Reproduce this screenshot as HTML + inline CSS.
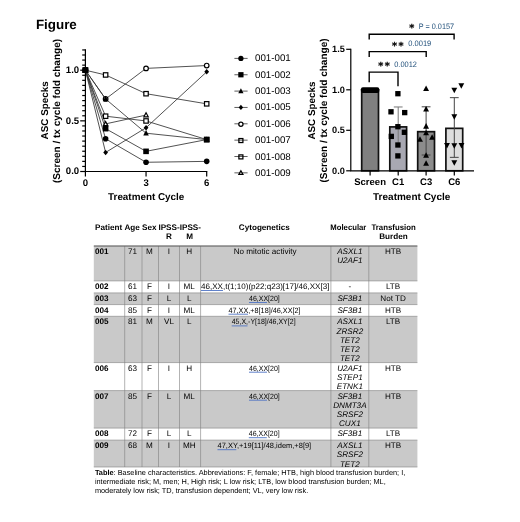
<!DOCTYPE html>
<html><head><meta charset="utf-8"><title>Figure</title>
<style>
html,body{margin:0;padding:0;background:#fff;}
svg{display:block;}
text{font-family:"Liberation Sans",sans-serif;fill:#000;text-rendering:geometricPrecision;}
.b{font-weight:bold;}
.i{font-style:italic;}
.bl{fill:#1f4e79;}
</style></head><body>
<svg width="520" height="522" viewBox="0 0 520 522">
<rect x="0" y="0" width="520" height="522" fill="#fff"/>
<text class="b" x="35.9" y="29.2" font-size="13.4">Figure</text>
<g id="linechart">
<path d="M85.40 70.20 L105.62 138.78 L146.05 162.28 L206.70 161.37" fill="none" stroke="#333" stroke-width="0.85"/>
<path d="M85.40 70.20 L105.62 128.65 L146.05 151.34 L206.70 139.59" fill="none" stroke="#333" stroke-width="0.85"/>
<path d="M85.40 70.20 L105.62 98.97 L146.05 133.21 L206.70 139.59" fill="none" stroke="#333" stroke-width="0.85"/>
<path d="M85.40 70.20 L105.62 152.46 L146.05 127.74 L206.70 71.82" fill="none" stroke="#333" stroke-width="0.85"/>
<path d="M85.40 70.20 L105.62 98.97 L146.05 68.38 L206.70 65.54" fill="none" stroke="#333" stroke-width="0.85"/>
<path d="M85.40 70.20 L105.62 74.96 L146.05 93.70 L206.70 103.83" fill="none" stroke="#333" stroke-width="0.85"/>
<path d="M85.40 70.20 L105.62 116.19 L146.05 120.95 L206.70 139.59" fill="none" stroke="#333" stroke-width="0.85"/>
<path d="M85.40 70.20 L105.62 123.89 L146.05 115.08" fill="none" stroke="#333" stroke-width="0.85"/>
<path d="M85.40 67.90 L87.60 71.90 L83.20 71.90 Z" fill="#fff" stroke="#000" stroke-width="1.2" stroke-linejoin="miter"/>
<path d="M105.62 121.59 L107.82 125.59 L103.42 125.59 Z" fill="#fff" stroke="#000" stroke-width="1.2" stroke-linejoin="miter"/>
<path d="M146.05 112.78 L148.25 116.78 L143.85 116.78 Z" fill="#fff" stroke="#000" stroke-width="1.2" stroke-linejoin="miter"/>
<rect x="83.20" y="68.00" width="4.40" height="4.40" fill="#fff" stroke="#000" stroke-width="1.2"/>
<rect x="103.42" y="113.99" width="4.40" height="4.40" fill="#fff" stroke="#000" stroke-width="1.2"/>
<rect x="143.85" y="118.75" width="4.40" height="4.40" fill="#fff" stroke="#000" stroke-width="1.2"/>
<rect x="204.50" y="137.39" width="4.40" height="4.40" fill="#fff" stroke="#000" stroke-width="1.2"/>
<rect x="83.20" y="68.00" width="4.40" height="4.40" fill="#fff" stroke="#000" stroke-width="1.2"/>
<rect x="103.42" y="72.76" width="4.40" height="4.40" fill="#fff" stroke="#000" stroke-width="1.2"/>
<rect x="143.85" y="91.50" width="4.40" height="4.40" fill="#fff" stroke="#000" stroke-width="1.2"/>
<rect x="204.50" y="101.63" width="4.40" height="4.40" fill="#fff" stroke="#000" stroke-width="1.2"/>
<circle cx="85.40" cy="70.20" r="2.30" fill="#fff" stroke="#000" stroke-width="1.2"/>
<circle cx="105.62" cy="98.97" r="2.30" fill="#fff" stroke="#000" stroke-width="1.2"/>
<circle cx="146.05" cy="68.38" r="2.30" fill="#fff" stroke="#000" stroke-width="1.2"/>
<circle cx="206.70" cy="65.54" r="2.30" fill="#fff" stroke="#000" stroke-width="1.2"/>
<path d="M85.40 67.40 L87.78 70.20 L85.40 73.00 L83.02 70.20 Z" fill="#000"/>
<path d="M105.62 149.66 L108.00 152.46 L105.62 155.26 L103.24 152.46 Z" fill="#000"/>
<path d="M146.05 124.94 L148.43 127.74 L146.05 130.54 L143.67 127.74 Z" fill="#000"/>
<path d="M206.70 69.02 L209.08 71.82 L206.70 74.62 L204.32 71.82 Z" fill="#000"/>
<path d="M85.40 67.10 L88.20 72.40 L82.60 72.40 Z" fill="#000"/>
<path d="M105.62 95.87 L108.42 101.17 L102.82 101.17 Z" fill="#000"/>
<path d="M146.05 130.11 L148.85 135.41 L143.25 135.41 Z" fill="#000"/>
<path d="M206.70 136.49 L209.50 141.79 L203.90 141.79 Z" fill="#000"/>
<rect x="82.60" y="67.40" width="5.60" height="5.60" fill="#000"/>
<rect x="102.82" y="125.85" width="5.60" height="5.60" fill="#000"/>
<rect x="143.25" y="148.54" width="5.60" height="5.60" fill="#000"/>
<rect x="203.90" y="136.79" width="5.60" height="5.60" fill="#000"/>
<circle cx="85.40" cy="70.20" r="2.80" fill="#000"/>
<circle cx="105.62" cy="138.78" r="2.80" fill="#000"/>
<circle cx="146.05" cy="162.28" r="2.80" fill="#000"/>
<circle cx="206.70" cy="161.37" r="2.80" fill="#000"/>
<path d="M85.4 49.34 V171.5 H207.30" fill="none" stroke="#000" stroke-width="1.2"/>
<path d="M80.20 171.50 H85.4" stroke="#000" stroke-width="1.2"/>
<path d="M82.20 166.44 H85.4" stroke="#000" stroke-width="1.2"/>
<path d="M82.20 161.37 H85.4" stroke="#000" stroke-width="1.2"/>
<path d="M82.20 156.31 H85.4" stroke="#000" stroke-width="1.2"/>
<path d="M82.20 151.24 H85.4" stroke="#000" stroke-width="1.2"/>
<path d="M82.20 146.18 H85.4" stroke="#000" stroke-width="1.2"/>
<path d="M82.20 141.11 H85.4" stroke="#000" stroke-width="1.2"/>
<path d="M82.20 136.04 H85.4" stroke="#000" stroke-width="1.2"/>
<path d="M82.20 130.98 H85.4" stroke="#000" stroke-width="1.2"/>
<path d="M82.20 125.91 H85.4" stroke="#000" stroke-width="1.2"/>
<path d="M80.20 120.85 H85.4" stroke="#000" stroke-width="1.2"/>
<path d="M82.20 115.78 H85.4" stroke="#000" stroke-width="1.2"/>
<path d="M82.20 110.72 H85.4" stroke="#000" stroke-width="1.2"/>
<path d="M82.20 105.66 H85.4" stroke="#000" stroke-width="1.2"/>
<path d="M82.20 100.59 H85.4" stroke="#000" stroke-width="1.2"/>
<path d="M82.20 95.53 H85.4" stroke="#000" stroke-width="1.2"/>
<path d="M82.20 90.46 H85.4" stroke="#000" stroke-width="1.2"/>
<path d="M82.20 85.39 H85.4" stroke="#000" stroke-width="1.2"/>
<path d="M82.20 80.33 H85.4" stroke="#000" stroke-width="1.2"/>
<path d="M82.20 75.27 H85.4" stroke="#000" stroke-width="1.2"/>
<path d="M80.20 70.20 H85.4" stroke="#000" stroke-width="1.2"/>
<path d="M82.20 65.14 H85.4" stroke="#000" stroke-width="1.2"/>
<path d="M82.20 60.07 H85.4" stroke="#000" stroke-width="1.2"/>
<path d="M82.20 55.00 H85.4" stroke="#000" stroke-width="1.2"/>
<path d="M82.20 49.94 H85.4" stroke="#000" stroke-width="1.2"/>
<path d="M85.40 171.5 V176.5" stroke="#000" stroke-width="1.2"/>
<path d="M146.05 171.5 V176.5" stroke="#000" stroke-width="1.2"/>
<path d="M206.70 171.5 V176.5" stroke="#000" stroke-width="1.2"/>
<text class="b" x="79.2" y="73.10" font-size="9.6" text-anchor="end">1.0</text>
<text class="b" x="79.2" y="123.75" font-size="9.6" text-anchor="end">0.5</text>
<text class="b" x="79.2" y="174.40" font-size="9.6" text-anchor="end">0.0</text>
<text class="b" x="85.40" y="185.9" font-size="9.6" text-anchor="middle">0</text>
<text class="b" x="146.05" y="185.9" font-size="9.6" text-anchor="middle">3</text>
<text class="b" x="206.70" y="185.9" font-size="9.6" text-anchor="middle">6</text>
<text class="b" x="146.2" y="200" font-size="9.9" text-anchor="middle">Treatment Cycle</text>
<text class="b" transform="translate(47.9 110.3) rotate(-90)" font-size="9.9" text-anchor="middle">ASC Specks</text>
<text class="b" transform="translate(60.4 111.0) rotate(-90)" font-size="10.03" text-anchor="middle">(Screen / tx cycle fold change)</text>
</g>
<g id="legend">
<path d="M234.4 58.40 H247.6" stroke="#333" stroke-width="0.8"/>
<circle cx="240.90" cy="58.40" r="2.63" fill="#000"/>
<text x="255" y="61.40" font-size="9.75">001-001</text>
<path d="M234.4 74.75 H247.6" stroke="#333" stroke-width="0.8"/>
<rect x="238.27" y="72.12" width="5.26" height="5.26" fill="#000"/>
<text x="255" y="77.75" font-size="9.75">001-002</text>
<path d="M234.4 91.10 H247.6" stroke="#333" stroke-width="0.8"/>
<path d="M240.90 88.17 L243.53 93.13 L238.27 93.13 Z" fill="#000"/>
<text x="255" y="94.10" font-size="9.75">001-003</text>
<path d="M234.4 107.45 H247.6" stroke="#333" stroke-width="0.8"/>
<path d="M240.90 104.82 L243.14 107.45 L240.90 110.08 L238.66 107.45 Z" fill="#000"/>
<text x="255" y="110.45" font-size="9.75">001-005</text>
<path d="M234.4 123.80 H247.6" stroke="#333" stroke-width="0.8"/>
<circle cx="240.90" cy="124.20" r="2.11" fill="#fff" stroke="#000" stroke-width="1.25"/>
<text x="255" y="126.80" font-size="9.75">001-006</text>
<path d="M234.4 140.15 H247.6" stroke="#333" stroke-width="0.8"/>
<rect x="238.89" y="138.54" width="4.01" height="4.01" fill="none" stroke="#000" stroke-width="1.25"/>
<text x="255" y="143.15" font-size="9.75">001-007</text>
<path d="M234.4 156.50 H247.6" stroke="#333" stroke-width="0.8"/>
<rect x="238.89" y="154.89" width="4.01" height="4.01" fill="none" stroke="#000" stroke-width="1.25"/>
<text x="255" y="159.50" font-size="9.75">001-008</text>
<path d="M234.4 172.85 H247.6" stroke="#333" stroke-width="0.8"/>
<path d="M240.90 170.72 L242.91 174.38 L238.89 174.38 Z" fill="#fff" stroke="#000" stroke-width="1.25" stroke-linejoin="miter"/>
<text x="255" y="175.85" font-size="9.75">001-009</text>
</g>
<g id="barchart">
<rect x="361.70" y="89.80" width="16.8" height="81.00" fill="#808080" stroke="#111" stroke-width="1.7"/>
<rect x="389.80" y="126.90" width="16.8" height="43.90" fill="#a8a8b2" stroke="#111" stroke-width="1.7"/>
<path d="M393.80 106.97 H402.60 M398.20 106.97 V146.82" stroke="#777" stroke-width="1" fill="none"/>
<rect x="417.70" y="131.68" width="16.8" height="39.12" fill="#8c8c8c" stroke="#111" stroke-width="1.7"/>
<path d="M421.70 106.81 H430.50 M426.10 106.81 V155.01 M421.70 155.01 H430.50" stroke="#444" stroke-width="1" fill="none"/>
<rect x="445.90" y="128.36" width="16.8" height="42.44" fill="#dedede" stroke="#111" stroke-width="1.7"/>
<path d="M449.90 97.66 H458.70 M454.30 97.66 V157.35 M449.90 157.35 H458.70" stroke="#444" stroke-width="1" fill="none"/>
<rect x="360.90" y="87.30" width="18.4" height="5.6" rx="2" fill="#000"/>
<rect x="395.24" y="91.04" width="5.32" height="5.32" fill="#000"/>
<rect x="388.34" y="109.14" width="5.32" height="5.32" fill="#000"/>
<rect x="402.04" y="109.94" width="5.32" height="5.32" fill="#000"/>
<rect x="395.24" y="124.04" width="5.32" height="5.32" fill="#000"/>
<rect x="388.64" y="133.74" width="5.32" height="5.32" fill="#000"/>
<rect x="401.74" y="129.64" width="5.32" height="5.32" fill="#000"/>
<rect x="395.24" y="142.34" width="5.32" height="5.32" fill="#000"/>
<rect x="395.24" y="153.24" width="5.32" height="5.32" fill="#000"/>
<path d="M426.10 85.46 L429.04 91.04 L423.16 91.04 Z" fill="#000"/>
<path d="M426.10 105.96 L429.04 111.54 L423.16 111.54 Z" fill="#000"/>
<path d="M426.10 123.06 L429.04 128.64 L423.16 128.64 Z" fill="#000"/>
<path d="M420.00 136.16 L422.94 141.74 L417.06 141.74 Z" fill="#000"/>
<path d="M432.10 134.16 L435.04 139.74 L429.16 139.74 Z" fill="#000"/>
<path d="M426.10 129.76 L429.04 135.34 L423.16 135.34 Z" fill="#000"/>
<path d="M426.10 152.26 L429.04 157.84 L423.16 157.84 Z" fill="#000"/>
<path d="M426.10 160.26 L429.04 165.84 L423.16 165.84 Z" fill="#000"/>
<path d="M454.30 93.34 L457.24 87.76 L451.36 87.76 Z" fill="#000"/>
<path d="M461.30 88.74 L464.24 83.16 L458.36 83.16 Z" fill="#000"/>
<path d="M454.30 119.84 L457.24 114.26 L451.36 114.26 Z" fill="#000"/>
<path d="M447.00 148.54 L449.94 142.96 L444.06 142.96 Z" fill="#000"/>
<path d="M454.30 148.84 L457.24 143.26 L451.36 143.26 Z" fill="#000"/>
<path d="M461.50 148.54 L464.44 142.96 L458.56 142.96 Z" fill="#000"/>
<path d="M454.30 165.74 L457.24 160.16 L451.36 160.16 Z" fill="#000"/>
<path d="M350.8 48.70 V170.8 H474" fill="none" stroke="#000" stroke-width="1.2"/>
<path d="M346.20 49.30 H350.8" stroke="#000" stroke-width="1.2"/>
<text class="b" x="344.9" y="52.20" font-size="9.2" text-anchor="end">1.5</text>
<path d="M346.20 89.80 H350.8" stroke="#000" stroke-width="1.2"/>
<text class="b" x="344.9" y="92.70" font-size="9.2" text-anchor="end">1.0</text>
<path d="M346.20 130.30 H350.8" stroke="#000" stroke-width="1.2"/>
<text class="b" x="344.9" y="133.20" font-size="9.2" text-anchor="end">0.5</text>
<path d="M346.20 170.80 H350.8" stroke="#000" stroke-width="1.2"/>
<text class="b" x="344.9" y="173.70" font-size="9.2" text-anchor="end">0.0</text>
<path d="M370.10 170.8 V175.4" stroke="#000" stroke-width="1.2"/>
<text class="b" x="370.10" y="185.3" font-size="9.5" text-anchor="middle">Screen</text>
<path d="M398.20 170.8 V175.4" stroke="#000" stroke-width="1.2"/>
<text class="b" x="398.20" y="185.3" font-size="9.5" text-anchor="middle">C1</text>
<path d="M426.10 170.8 V175.4" stroke="#000" stroke-width="1.2"/>
<text class="b" x="426.10" y="185.3" font-size="9.5" text-anchor="middle">C3</text>
<path d="M454.30 170.8 V175.4" stroke="#000" stroke-width="1.2"/>
<text class="b" x="454.30" y="185.3" font-size="9.5" text-anchor="middle">C6</text>
<text class="b" x="411.7" y="199.6" font-size="10" text-anchor="middle">Treatment Cycle</text>
<text class="b" transform="translate(314.5 110.5) rotate(-90)" font-size="9.9" text-anchor="middle">ASC Specks</text>
<text class="b" transform="translate(326.7 110.5) rotate(-90)" font-size="10.03" text-anchor="middle">(Screen / tx cycle fold change)</text>
<path d="M369.2 39.6 V34.2 H454.1 V39.6" fill="none" stroke="#000" stroke-width="1.4"/>
<path d="M369.2 57 V51.6 H426.2 V57" fill="none" stroke="#000" stroke-width="1.4"/>
<path d="M369.2 82.3 V72.1 H398 V86.3" fill="none" stroke="#000" stroke-width="1.4"/>
<text style="font-family:'DejaVu Sans',sans-serif;font-weight:bold" font-size="9.6" text-anchor="middle" stroke="#000" stroke-width="0.3" x="411.70" y="30.80">*</text>
<text class="bl" x="418.8" y="28.8" font-size="7.9" textLength="35.2" lengthAdjust="spacingAndGlyphs">P = 0.0157</text>
<text style="font-family:'DejaVu Sans',sans-serif;font-weight:bold" font-size="9.6" text-anchor="middle" stroke="#000" stroke-width="0.3" x="394.40" y="49.00">*</text>
<text style="font-family:'DejaVu Sans',sans-serif;font-weight:bold" font-size="9.6" text-anchor="middle" stroke="#000" stroke-width="0.3" x="401.00" y="49.00">*</text>
<text class="bl" x="408.3" y="46.4" font-size="7.9" textLength="23" lengthAdjust="spacingAndGlyphs">0.0019</text>
<text style="font-family:'DejaVu Sans',sans-serif;font-weight:bold" font-size="9.6" text-anchor="middle" stroke="#000" stroke-width="0.3" x="380.80" y="68.90">*</text>
<text style="font-family:'DejaVu Sans',sans-serif;font-weight:bold" font-size="9.6" text-anchor="middle" stroke="#000" stroke-width="0.3" x="387.20" y="68.90">*</text>
<text class="bl" x="394.2" y="66.9" font-size="7.9" textLength="22.8" lengthAdjust="spacingAndGlyphs">0.0012</text>
</g>
<g id="table" font-size="8.15">
<rect x="93.8" y="246.2" width="323.60" height="34.70" fill="#c9c9c9"/>
<rect x="93.8" y="292.9" width="323.60" height="11.70" fill="#c9c9c9"/>
<rect x="93.8" y="316.3" width="323.60" height="46.30" fill="#c9c9c9"/>
<rect x="93.8" y="390.6" width="323.60" height="37.50" fill="#c9c9c9"/>
<rect x="93.8" y="440.1" width="323.60" height="26.90" fill="#c9c9c9"/>
<path d="M93.8 280.9 H417.4" stroke="#7f7f7f" stroke-width="0.6"/>
<path d="M93.8 292.9 H417.4" stroke="#7f7f7f" stroke-width="0.6"/>
<path d="M93.8 304.6 H417.4" stroke="#7f7f7f" stroke-width="0.6"/>
<path d="M93.8 316.3 H417.4" stroke="#7f7f7f" stroke-width="0.6"/>
<path d="M93.8 362.6 H417.4" stroke="#7f7f7f" stroke-width="0.6"/>
<path d="M93.8 390.6 H417.4" stroke="#7f7f7f" stroke-width="0.6"/>
<path d="M93.8 428.1 H417.4" stroke="#7f7f7f" stroke-width="0.6"/>
<path d="M93.8 440.1 H417.4" stroke="#7f7f7f" stroke-width="0.6"/>
<path d="M93.8 467.0 H417.4" stroke="#7f7f7f" stroke-width="0.6"/>
<path d="M124.7 246.2 V467.0" stroke="#7f7f7f" stroke-width="0.6"/>
<path d="M142.0 246.2 V467.0" stroke="#7f7f7f" stroke-width="0.6"/>
<path d="M158.5 246.2 V467.0" stroke="#7f7f7f" stroke-width="0.6"/>
<path d="M179.5 246.2 V467.0" stroke="#7f7f7f" stroke-width="0.6"/>
<path d="M200.6 246.2 V467.0" stroke="#7f7f7f" stroke-width="0.6"/>
<path d="M330.9 246.2 V467.0" stroke="#7f7f7f" stroke-width="0.6"/>
<path d="M368.8 246.2 V467.0" stroke="#7f7f7f" stroke-width="0.6"/>
<path d="M93.8 246.0 H417.4" stroke="#4a4a4a" stroke-width="1.2"/>
<text class="b" x="95" y="229.9">Patient</text>
<text class="b" x="132.15" y="229.90" text-anchor="middle" >Age</text>
<text class="b" x="149.25" y="229.90" text-anchor="middle" >Sex</text>
<text class="b" x="169.00" y="229.90" text-anchor="middle" >IPSS-</text>
<text class="b" x="169.00" y="238.60" text-anchor="middle" >R</text>
<text class="b" x="190.35" y="229.90" text-anchor="middle" >IPSS-</text>
<text class="b" x="189.55" y="238.60" text-anchor="middle" >M</text>
<text class="b" x="264.35" y="229.90" text-anchor="middle" >Cytogenetics</text>
<text class="b" x="348.35" y="229.90" text-anchor="middle" textLength="36" lengthAdjust="spacingAndGlyphs">Molecular</text>
<text class="b" x="393.60" y="229.90" text-anchor="middle" textLength="44.2" lengthAdjust="spacingAndGlyphs">Transfusion</text>
<text class="b" x="393.40" y="238.60" text-anchor="middle" >Burden</text>
<text class="b" x="95" y="254.10">001</text>
<text class="" x="132.55" y="254.10" text-anchor="middle" >71</text>
<text class="" x="149.45" y="254.10" text-anchor="middle" >M</text>
<text class="" x="169.00" y="254.10" text-anchor="middle" >I</text>
<text class="" x="189.25" y="254.10" text-anchor="middle" >H</text>
<text class="" x="265.15" y="254.10" text-anchor="middle" textLength="62.9" lengthAdjust="spacingAndGlyphs">No mitotic activity</text>
<text class="i" x="349.85" y="254.10" text-anchor="middle" >ASXL1</text>
<text class="i" x="349.85" y="263.40" text-anchor="middle" >U2AF1</text>
<text class="" x="393.10" y="254.10" text-anchor="middle" >HTB</text>
<text class="b" x="95" y="288.80">002</text>
<text class="" x="132.55" y="288.80" text-anchor="middle" >61</text>
<text class="" x="149.45" y="288.80" text-anchor="middle" >F</text>
<text class="" x="169.00" y="288.80" text-anchor="middle" >I</text>
<text class="" x="189.25" y="288.80" text-anchor="middle" >ML</text>
<text x="201.0" y="288.80" font-size="8" textLength="128.4" lengthAdjust="spacingAndGlyphs">46,XX,t(1;10)(p22;q23)[17]/46,XX[3]</text>
<path d="M201.0 290.50 H223.00" stroke="#4f74c4" stroke-width="0.9"/>
<text class="" x="349.85" y="288.80" text-anchor="middle" >-</text>
<text class="" x="393.10" y="288.80" text-anchor="middle" >LTB</text>
<text class="b" x="95" y="300.80">003</text>
<text class="" x="132.55" y="300.80" text-anchor="middle" >63</text>
<text class="" x="149.45" y="300.80" text-anchor="middle" >F</text>
<text class="" x="169.00" y="300.80" text-anchor="middle" >L</text>
<text class="" x="189.25" y="300.80" text-anchor="middle" >L</text>
<text x="249.0" y="301.00" font-size="7.6" textLength="30.8" lengthAdjust="spacingAndGlyphs">46,XX[20]</text>
<path d="M249.0 302.50 H267.00" stroke="#4f74c4" stroke-width="0.9"/>
<text class="i" x="349.85" y="300.80" text-anchor="middle" >SF3B1</text>
<text class="" x="393.10" y="300.80" text-anchor="middle" >Not TD</text>
<text class="b" x="95" y="312.50">004</text>
<text class="" x="132.55" y="312.50" text-anchor="middle" >85</text>
<text class="" x="149.45" y="312.50" text-anchor="middle" >F</text>
<text class="" x="169.00" y="312.50" text-anchor="middle" >I</text>
<text class="" x="189.25" y="312.50" text-anchor="middle" >ML</text>
<text x="228.5" y="312.70" font-size="7.6" textLength="72.1" lengthAdjust="spacingAndGlyphs">47,XX,+8[18]/46,XX[2]</text>
<path d="M228.5 314.20 H248.00" stroke="#4f74c4" stroke-width="0.9"/>
<text class="i" x="349.85" y="312.50" text-anchor="middle" >SF3B1</text>
<text class="" x="393.10" y="312.50" text-anchor="middle" >HTB</text>
<text class="b" x="95" y="324.20">005</text>
<text class="" x="132.55" y="324.20" text-anchor="middle" >81</text>
<text class="" x="149.45" y="324.20" text-anchor="middle" >M</text>
<text class="" x="169.00" y="324.20" text-anchor="middle" >VL</text>
<text class="" x="189.25" y="324.20" text-anchor="middle" >L</text>
<text x="231.7" y="324.40" font-size="7.6" textLength="63.9" lengthAdjust="spacingAndGlyphs">45,X,-Y[18]/46,XY[2]</text>
<path d="M231.7 325.90 H247.50" stroke="#4f74c4" stroke-width="0.9"/>
<text class="i" x="349.85" y="324.20" text-anchor="middle" >ASXL1</text>
<text class="i" x="349.85" y="333.50" text-anchor="middle" >ZRSR2</text>
<text class="i" x="349.85" y="342.80" text-anchor="middle" >TET2</text>
<text class="i" x="349.85" y="352.10" text-anchor="middle" >TET2</text>
<text class="i" x="349.85" y="361.40" text-anchor="middle" >TET2</text>
<text class="" x="393.10" y="324.20" text-anchor="middle" >LTB</text>
<text class="b" x="95" y="370.50">006</text>
<text class="" x="132.55" y="370.50" text-anchor="middle" >63</text>
<text class="" x="149.45" y="370.50" text-anchor="middle" >F</text>
<text class="" x="169.00" y="370.50" text-anchor="middle" >I</text>
<text class="" x="189.25" y="370.50" text-anchor="middle" >H</text>
<text x="249.0" y="370.70" font-size="7.6" textLength="30.8" lengthAdjust="spacingAndGlyphs">46,XX[20]</text>
<path d="M249.0 372.20 H267.00" stroke="#4f74c4" stroke-width="0.9"/>
<text class="i" x="349.85" y="370.50" text-anchor="middle" >U2AF1</text>
<text class="i" x="349.85" y="379.80" text-anchor="middle" >STEP1</text>
<text class="i" x="349.85" y="389.10" text-anchor="middle" >ETNK1</text>
<text class="" x="393.10" y="370.50" text-anchor="middle" >HTB</text>
<text class="b" x="95" y="398.50">007</text>
<text class="" x="132.55" y="398.50" text-anchor="middle" >85</text>
<text class="" x="149.45" y="398.50" text-anchor="middle" >F</text>
<text class="" x="169.00" y="398.50" text-anchor="middle" >L</text>
<text class="" x="189.25" y="398.50" text-anchor="middle" >ML</text>
<text x="249.0" y="398.70" font-size="7.6" textLength="30.8" lengthAdjust="spacingAndGlyphs">46,XX[20]</text>
<path d="M249.0 400.20 H267.00" stroke="#4f74c4" stroke-width="0.9"/>
<text class="i" x="349.85" y="398.50" text-anchor="middle" >SF3B1</text>
<text class="i" x="349.85" y="407.80" text-anchor="middle" >DNMT3A</text>
<text class="i" x="349.85" y="417.10" text-anchor="middle" >SRSF2</text>
<text class="i" x="349.85" y="426.40" text-anchor="middle" >CUX1</text>
<text class="" x="393.10" y="398.50" text-anchor="middle" >HTB</text>
<text class="b" x="95" y="436.00">008</text>
<text class="" x="132.55" y="436.00" text-anchor="middle" >72</text>
<text class="" x="149.45" y="436.00" text-anchor="middle" >F</text>
<text class="" x="169.00" y="436.00" text-anchor="middle" >L</text>
<text class="" x="189.25" y="436.00" text-anchor="middle" >L</text>
<text x="248.8" y="436.20" font-size="7.6" textLength="30.8" lengthAdjust="spacingAndGlyphs">46,XX[20]</text>
<path d="M248.8 437.70 H266.80" stroke="#4f74c4" stroke-width="0.9"/>
<text class="i" x="349.85" y="436.00" text-anchor="middle" >SF3B1</text>
<text class="" x="393.10" y="436.00" text-anchor="middle" >LTB</text>
<text class="b" x="95" y="448.00">009</text>
<text class="" x="132.55" y="448.00" text-anchor="middle" >68</text>
<text class="" x="149.45" y="448.00" text-anchor="middle" >M</text>
<text class="" x="169.00" y="448.00" text-anchor="middle" >I</text>
<text class="" x="189.25" y="448.00" text-anchor="middle" >MH</text>
<text x="217.5" y="448.20" font-size="7.6" textLength="93.7" lengthAdjust="spacingAndGlyphs">47,XY,+19[11]/48,idem,+8[9]</text>
<path d="M217.5 449.70 H236.30" stroke="#4f74c4" stroke-width="0.9"/>
<text class="i" x="349.85" y="448.00" text-anchor="middle" >AXSL1</text>
<text class="i" x="349.85" y="457.30" text-anchor="middle" >SRSF2</text>
<text class="i" x="349.85" y="466.60" text-anchor="middle" >TET2</text>
<text class="" x="393.10" y="448.00" text-anchor="middle" >HTB</text>
</g>
<g id="caption" font-size="7.36">
<text x="94.9" y="475.1"><tspan class="b">Table</tspan>: Baseline characteristics. Abbreviations: F, female; HTB, high blood transfusion burden; I,</text>
<text x="94.9" y="484.0">intermediate risk; M, men; H, High risk; L low risk; LTB, low blood transfusion burden; ML,</text>
<text x="94.9" y="492.8">moderately low risk; TD, transfusion dependent; VL, very low risk.</text>
</g>
</svg>
</body></html>
